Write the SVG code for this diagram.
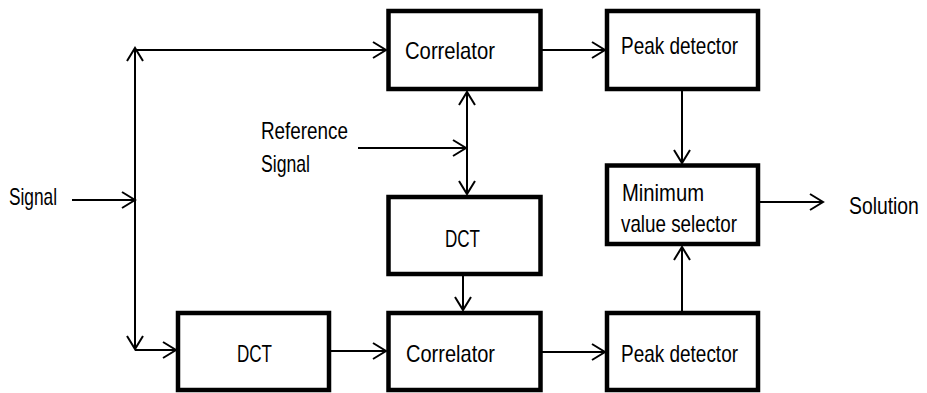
<svg xmlns="http://www.w3.org/2000/svg" width="927" height="393" viewBox="0 0 927 393">
<style>
.box{fill:#fff;stroke:#000;stroke-width:4.5}
.t{font-family:"Liberation Sans",Arial,sans-serif;font-size:24px;fill:#000}
.c{fill:none;stroke:#000;stroke-width:2}
.ar{marker-end:url(#a)}
.bi{marker-start:url(#a);marker-end:url(#a)}
</style>
<defs>
<marker id="a" markerWidth="16" markerHeight="20" refX="14" refY="9" viewBox="0 0 16 18" orient="auto-start-reverse" markerUnits="userSpaceOnUse">
<path d="M1,1 L14,9 L1,17" fill="none" stroke="#000" stroke-width="2"/>
</marker>
</defs>
<rect width="927" height="393" fill="#fff"/>
<g id="connectors">
<line class="c ar" x1="72" y1="200" x2="135" y2="200"/>
<line class="c bi" x1="135" y1="48" x2="135" y2="349"/>
<line class="c ar" x1="135" y1="50" x2="386" y2="50"/>
<line class="c ar" x1="135" y1="350" x2="176" y2="350"/>
<line class="c ar" x1="329" y1="351" x2="386" y2="351"/>
<line class="c ar" x1="540" y1="50" x2="605" y2="50"/>
<line class="c ar" x1="540" y1="352" x2="605" y2="352"/>
<line class="c ar" x1="358" y1="148" x2="466" y2="148"/>
<line class="c bi" x1="467" y1="92" x2="467" y2="194"/>
<line class="c ar" x1="463" y1="276" x2="463" y2="310"/>
<line class="c ar" x1="682" y1="89" x2="682" y2="163"/>
<line class="c ar" x1="682" y1="313" x2="682" y2="247"/>
<line class="c ar" x1="758" y1="202" x2="823" y2="202"/>
</g>
<g id="signal-label"><text class="t" x="9" y="205" textLength="48" lengthAdjust="spacingAndGlyphs">Signal</text></g>
<g id="ref-label">
<text class="t" x="261" y="139" textLength="87" lengthAdjust="spacingAndGlyphs">Reference</text>
<text class="t" x="261" y="172" textLength="49" lengthAdjust="spacingAndGlyphs">Signal</text>
</g>
<g id="solution-label"><text class="t" transform="translate(849,214) scale(0.806,1)" x="0" y="0">Solution</text></g>
<g id="correlator1">
<rect class="box" x="388.5" y="11" width="152" height="78"/>
<text class="t" x="405" y="59" textLength="90" lengthAdjust="spacingAndGlyphs">Correlator</text>
</g>
<g id="peak1">
<rect class="box" x="607" y="11" width="151" height="78"/>
<text class="t" x="621" y="54" textLength="117" lengthAdjust="spacingAndGlyphs">Peak detector</text>
</g>
<g id="minsel">
<rect class="box" x="607" y="165.5" width="151" height="78.5"/>
<text class="t" x="622" y="201" textLength="82" lengthAdjust="spacingAndGlyphs">Minimum</text>
<text class="t" x="621" y="232" textLength="116" lengthAdjust="spacingAndGlyphs">value selector</text>
</g>
<g id="dct1">
<rect class="box" x="388.5" y="197" width="152" height="77"/>
<text class="t" x="445" y="247" textLength="35" lengthAdjust="spacingAndGlyphs">DCT</text>
</g>
<g id="dct2">
<rect class="box" x="178" y="313" width="151" height="77"/>
<text class="t" x="237" y="362" textLength="35" lengthAdjust="spacingAndGlyphs">DCT</text>
</g>
<g id="correlator2">
<rect class="box" x="388.5" y="313" width="152" height="77"/>
<text class="t" x="406" y="362" textLength="89" lengthAdjust="spacingAndGlyphs">Correlator</text>
</g>
<g id="peak2">
<rect class="box" x="607" y="313" width="151" height="77"/>
<text class="t" x="621" y="362" textLength="117" lengthAdjust="spacingAndGlyphs">Peak detector</text>
</g>
</svg>
